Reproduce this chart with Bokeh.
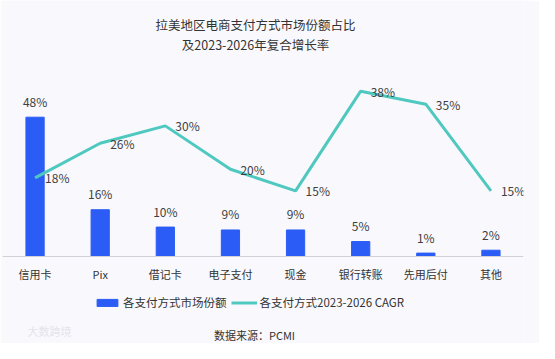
from bokeh.plotting import figure
from bokeh.models import (ColumnDataSource, Range1d, Legend, LegendItem, Label, LabelSet)
from bokeh.core.properties import value
from bokeh.embed import file_html
from bokeh.resources import INLINE

categories = ["信用卡", "Pix", "借记卡", "电子支付", "现金", "银行转账", "先用后付", "其他"]
share = [48, 16, 10, 9, 9, 5, 1, 2]
cagr = [18, 26, 30, 20, 15, 38, 35, 15]
title_lines = ["拉美地区电商支付方式市场份额占比", "及2023-2026年复合增长率"]
legend_labels = ["各支付方式市场份额", "各支付方式2023-2026 CAGR"]
source_text = "数据来源：PCMI"
watermark = "大数跨境"

FONT = "Noto Sans CJK SC"
BG = "#f9f9fd"
BAR = "#2b5cf6"
LINE = "#4fc8c0"
TXT = "#404040"

W, H = 539, 343
X0_PX, TOP_PX = 255.5, 82.0          # baseline and top of value area (px from top)
LEFT_MAX, RIGHT_MAX = 60, 40
lpx = (X0_PX - TOP_PX) / LEFT_MAX
rpx = (X0_PX - TOP_PX) / RIGHT_MAX

src = ColumnDataSource(dict(
    cat=categories, share=share, cagr=cagr,
    share_lbl=[f"{v}%" for v in share],
    cagr_lbl=[f"{v}%" for v in cagr],
))

p = figure(width=W, height=H, x_range=categories,
           y_range=Range1d(-(H - X0_PX) / lpx, X0_PX / lpx),
           output_backend="svg", toolbar_location=None,
           min_border_left=2, min_border_right=16, min_border_top=0, min_border_bottom=0,
           background_fill_color=BG, border_fill_color=BG, outline_line_color=None)
p.x_range.range_padding = 0
p.extra_y_ranges = {"r": Range1d(-(H - X0_PX) / rpx, X0_PX / rpx)}

bars = p.vbar(x="cat", top="share", width=0.28, color=BAR, source=src)
line = p.line(x="cat", y="cagr", line_width=3, color=LINE, y_range_name="r", source=src)

p.add_layout(LabelSet(x="cat", y="share", text="share_lbl", source=src,
                      text_align="center", text_baseline="middle", y_offset=16,
                      text_font=value(FONT), text_font_size="12px", text_color=TXT))
p.add_layout(LabelSet(x="cat", y="cagr", text="cagr_lbl", source=src, y_range_name="r",
                      text_align="left", text_baseline="middle", x_offset=10,
                      text_font=value(FONT), text_font_size="12px", text_color=TXT))

p.yaxis.visible = False
p.xgrid.visible = False
p.ygrid.visible = False

ax = p.xaxis[0]
ax.fixed_location = 0
ax.axis_line_color = "#d0d0d8"
ax.major_tick_line_color = None
ax.minor_tick_line_color = None
ax.major_tick_out = 0
ax.major_tick_in = 0
ax.major_label_text_font = FONT
ax.major_label_text_font_size = "11px"
ax.major_label_text_color = "#333333"
ax.major_label_standoff = 10

legend = Legend(items=[LegendItem(label=legend_labels[0], renderers=[bars]),
                       LegendItem(label=legend_labels[1], renderers=[line])],
                orientation="horizontal", location=(92, 33),
                background_fill_alpha=0, border_line_color=None,
                label_text_font=FONT, label_text_font_size="11.5px",
                label_text_color="#333333", glyph_width=26, glyph_height=9,
                label_standoff=3, spacing=4, padding=0, margin=0)
p.add_layout(legend, "center")

for i, t in enumerate(title_lines):
    p.add_layout(Label(x=253, y=H - 24 - i * 20, x_units="screen", y_units="screen",
                       text=t, text_align="center", text_baseline="middle",
                       text_font=FONT, text_font_size="12.5px", text_color="#333333"))
p.add_layout(Label(x=252, y=H - 334, x_units="screen", y_units="screen",
                   text=source_text, text_align="center", text_baseline="middle",
                   text_font=FONT, text_font_size="11px", text_color="#333333"))
p.add_layout(Label(x=25, y=H - 330, x_units="screen", y_units="screen",
                   text=watermark, text_align="left", text_baseline="middle",
                   text_font=FONT, text_font_size="11px", text_color="#e4e4ea"))

open("out.html", "w").write(file_html(p, INLINE))
